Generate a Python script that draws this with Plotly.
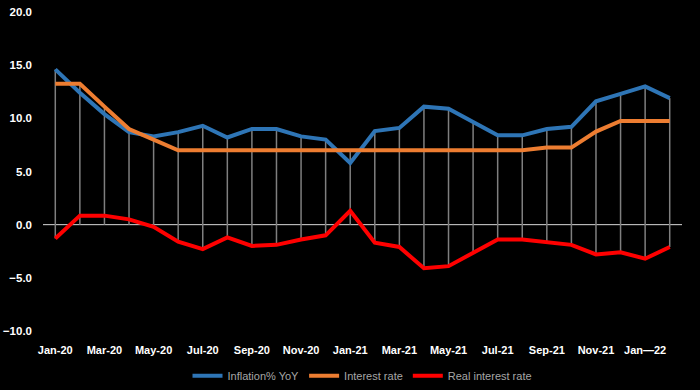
import plotly.graph_objects as go

months = ["Jan-20","Feb-20","Mar-20","Apr-20","May-20","Jun-20","Jul-20","Aug-20","Sep-20","Oct-20","Nov-20","Dec-20",
          "Jan-21","Feb-21","Mar-21","Apr-21","May-21","Jun-21","Jul-21","Aug-21","Sep-21","Oct-21","Nov-21","Dec-21",
          "Jan—22","Feb-22"]
inflation = [14.6, 12.4, 10.4, 8.7, 8.3, 8.7, 9.3, 8.2, 9.0, 9.0, 8.3, 8.0,
             5.8, 8.8, 9.1, 11.1, 10.9, 9.6, 8.4, 8.4, 9.0, 9.2, 11.6, 12.3, 13.0, 11.9]
interest = [13.25, 13.25, 11.1, 9.0, 8.0, 7.0, 7.0, 7.0, 7.0, 7.0, 7.0, 7.0,
            7.0, 7.0, 7.0, 7.0, 7.0, 7.0, 7.0, 7.0, 7.25, 7.25, 8.75, 9.75, 9.75, 9.75]
real = [-1.3, 0.85, 0.85, 0.5, -0.2, -1.6, -2.3, -1.2, -2.0, -1.9, -1.4, -1.0,
        1.3, -1.7, -2.1, -4.1, -3.9, -2.7, -1.4, -1.4, -1.65, -1.9, -2.8, -2.6, -3.2, -2.1]
tick_labels = [m if i % 2 == 0 else "" for i, m in enumerate(months)]

x = list(range(len(months)))

# drop lines
dx, dy = [], []
for i in x:
    top = max(inflation[i], interest[i], real[i], 0)
    bot = min(inflation[i], interest[i], real[i], 0)
    dx += [i, i, None]
    dy += [top, bot, None]

fig = go.Figure()
fig.add_trace(go.Scatter(x=dx, y=dy, mode="lines", line=dict(color="#7f7f7f", width=1.5),
                         showlegend=False, hoverinfo="skip"))
fig.add_shape(type="line", xref="x", yref="y", x0=-0.5, x1=len(months) - 0.5, y0=0, y1=0,
              line=dict(color="#d9d9d9", width=1), layer="below")
fig.add_trace(go.Scatter(x=x, y=inflation, name="Inflation% YoY", mode="lines",
                         line=dict(color="#2e75b6", width=4)))
fig.add_trace(go.Scatter(x=x, y=interest, name="Interest rate", mode="lines",
                         line=dict(color="#ed7d31", width=4)))
fig.add_trace(go.Scatter(x=x, y=real, name="Real interest rate", mode="lines",
                         line=dict(color="#ff0000", width=4)))

fig.update_layout(
    width=700, height=390,
    paper_bgcolor="black", plot_bgcolor="black",
    margin=dict(l=43, r=18, t=12, b=59, autoexpand=False),
    font=dict(family="Liberation Sans, Arial, sans-serif", color="white"),
    xaxis=dict(range=[-0.5, len(months) - 0.5], tickmode="array", tickvals=x, ticktext=tick_labels,
               showgrid=False, zeroline=False, showline=False, ticks="",
               ticklabelstandoff=11,
               tickfont=dict(size=11, color="white", family="Liberation Sans, Arial", weight="bold")),
    yaxis=dict(range=[-10, 20], tickvals=[-10, -5, 0, 5, 10, 15, 20], tickformat=".1f",
               showgrid=False, zeroline=False, showline=False, ticks="",
               ticklabelstandoff=10,
               tickfont=dict(size=11.5, color="white", family="Liberation Sans, Arial", weight="bold")),
    legend=dict(orientation="h", x=0.5, xanchor="center", y=-0.095, yanchor="top",
                font=dict(size=11, color="#a6a6a6"), bgcolor="rgba(0,0,0,0)"),
    showlegend=True,
)

fig.write_html("out.html", config={"displayModeBar": False},
               post_script="document.body.style.margin='0';document.body.style.background='black';")
